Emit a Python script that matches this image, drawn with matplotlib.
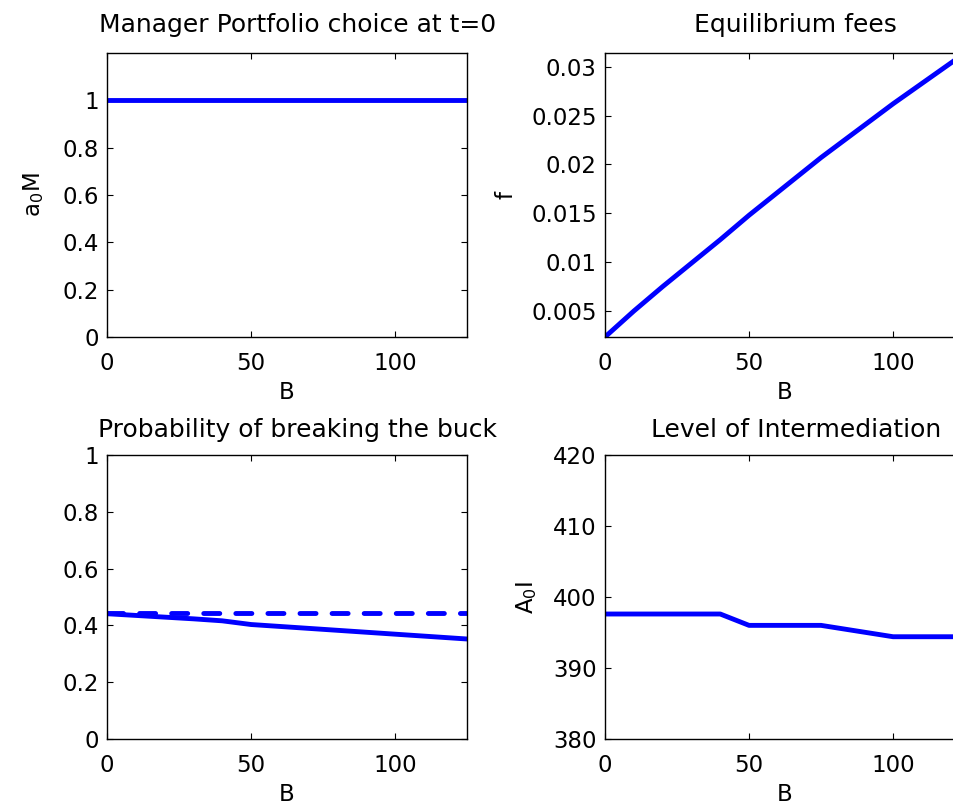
import numpy as np
import matplotlib.pyplot as plt

plt.rcParams['font.family'] = ['DejaVu Sans']
plt.rcParams['mathtext.fontset'] = 'dejavusans'

# Bailout size grid (B) and model outputs
B = [0, 10, 20, 30, 40, 50, 75, 100, 125]
manager_a0 = [1, 1, 1, 1, 1, 1, 1, 1, 1]
fees = [0.00235, 0.0050, 0.0075, 0.0099, 0.0123, 0.0148, 0.0207, 0.0262, 0.0314]
prob_break = [0.441, 0.435, 0.429, 0.423, 0.416, 0.403, 0.386, 0.369, 0.352]
prob_break_nobail = [0.443, 0.443, 0.443, 0.443, 0.443, 0.443, 0.443, 0.443, 0.443]
intermediation = [397.6, 397.6, 397.6, 397.6, 397.6, 396.0, 396.0, 394.4, 394.4]

blue = (0, 0, 1)
lw = 3.5
fs = 16.5
fs_title = 18
title_x = 0.53   # MATLAB titles sit a little right of the axes centre

fig = plt.figure(figsize=(9.54, 8.1), dpi=100)

# axes boxes in figure fractions; right column runs off the right edge like the original crop
w, h = 0.3774, 0.3506
ax1 = fig.add_axes([0.1122, 0.584, w, h])
ax2 = fig.add_axes([0.6342, 0.584, w, h])
ax3 = fig.add_axes([0.1122, 0.0877, w, h])
ax4 = fig.add_axes([0.6342, 0.0877, w, h])


def matlab_style(ax):
    ax.tick_params(direction='in', length=4, width=0.8, top=True, right=True,
                   labelsize=fs, pad=6)
    ax.tick_params(axis='x', pad=11)
    for sp in ax.spines.values():
        sp.set_linewidth(1.0)
    ax.set_xticks([0, 50, 100])
    ax.set_xlim(0, 125)
    ax.set_xlabel('B', fontsize=fs, labelpad=4)


ax1.plot(B, manager_a0, color=blue, lw=lw)
matlab_style(ax1)
ax1.set_ylim(0, 1.2)
ax1.set_yticks([0, 0.2, 0.4, 0.6, 0.8, 1])
ax1.set_yticklabels(['0', '0.2', '0.4', '0.6', '0.8', '1'])
ax1.set_ylabel(r'$\mathregular{a_0M}$', fontsize=fs, labelpad=12)
ax1.set_title('Manager Portfolio choice at t=0', fontsize=fs_title, pad=15, x=title_x)

ax2.plot(B, fees, color=blue, lw=lw)
matlab_style(ax2)
ax2.set_ylim(min(fees), max(fees))
ax2.set_yticks([0.005, 0.01, 0.015, 0.02, 0.025, 0.03])
ax2.set_yticklabels(['0.005', '0.01', '0.015', '0.02', '0.025', '0.03'])
ax2.set_ylabel('f', fontsize=fs, labelpad=10)
ax2.set_title('Equilibrium fees', fontsize=fs_title, pad=15, x=title_x)

ax3.plot(B, prob_break, color=blue, lw=lw, solid_capstyle='butt')
ax3.plot(B, prob_break_nobail, color=blue, lw=lw, dashes=(3.3, 3.3),
         dash_capstyle='round')
matlab_style(ax3)
ax3.set_ylim(0, 1)
ax3.set_yticks([0, 0.2, 0.4, 0.6, 0.8, 1])
ax3.set_yticklabels(['0', '0.2', '0.4', '0.6', '0.8', '1'])
ax3.set_title('Probability of breaking the buck', fontsize=fs_title, pad=13, x=title_x)

ax4.plot(B, intermediation, color=blue, lw=lw)
matlab_style(ax4)
ax4.set_ylim(380, 420)
ax4.set_yticks([380, 390, 400, 410, 420])
ax4.set_ylabel(r'$\mathregular{A_0I}$', fontsize=fs, labelpad=10)
ax4.set_title('Level of Intermediation', fontsize=fs_title, pad=13, x=title_x)

fig.savefig('out.png', dpi=100)
